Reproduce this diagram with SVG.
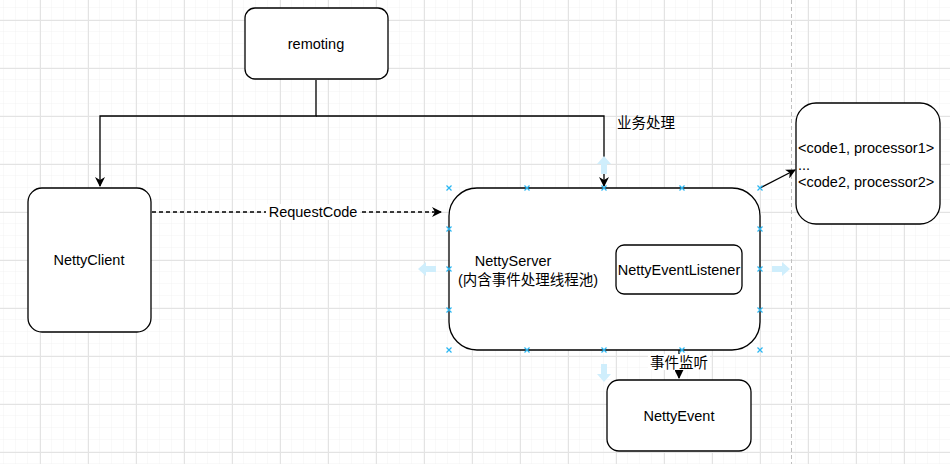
<svg xmlns="http://www.w3.org/2000/svg" width="950" height="464" viewBox="0 0 950 464">
<defs>
<pattern id="minor" width="12" height="12" patternUnits="userSpaceOnUse" x="4" y="8">
<path d="M12 0V12M0 12H12" fill="none" stroke="#f2f2f2" stroke-width="1"/>
</pattern>
<pattern id="major" width="48" height="48" patternUnits="userSpaceOnUse" x="40" y="20">
<path d="M0.5 0V48M0 0.5H48" fill="none" stroke="#e3e3e3" stroke-width="1"/>
</pattern>
<marker id="arr" viewBox="0 0 10 10" refX="9" refY="5" markerWidth="10" markerHeight="10" markerUnits="userSpaceOnUse" orient="auto">
<path d="M0 0L10 5L0 10L3 5Z" fill="#000"/>
</marker>
<marker id="tri" viewBox="0 0 10 10" refX="9" refY="5" markerWidth="9" markerHeight="9" markerUnits="userSpaceOnUse" orient="auto-start-reverse">
<path d="M0 0L10 5L0 10Z" fill="#000"/>
</marker>
<g id="xm"><path d="M-2.5 -2.5L2.5 2.5M-2.5 2.5L2.5 -2.5" stroke="#29b6f2" stroke-width="1.2"/></g>
</defs>
<style>
.box{fill:#fff;stroke:#000;stroke-width:1.3}
.t{font-family:"Liberation Sans",Arial,"Noto Sans CJK SC",sans-serif;font-size:14.5px;fill:#000}
.edge{fill:none;stroke:#000;stroke-width:1.3}
.hint{fill:#cfeefc}
</style>
<rect width="950" height="464" fill="#fff"/>
<rect width="950" height="464" fill="url(#minor)"/>
<rect width="950" height="464" fill="url(#major)"/>
<line x1="791.5" y1="0" x2="791.5" y2="464" stroke="#c0c0c0" stroke-dasharray="4 3"/>

<g id="connectors">
<path class="edge" d="M316 80V116H100V186" marker-end="url(#arr)"/>
<path class="edge" d="M316 116H604V186" marker-end="url(#arr)"/>
<path class="edge" d="M152 212H441" stroke-dasharray="4 3" marker-end="url(#arr)"/>
<rect x="266" y="204" width="94" height="16" fill="#fff"/>
<text class="t" x="313" y="217" text-anchor="middle">RequestCode</text>
<path class="edge" d="M760 188L795 170" marker-end="url(#arr)"/>
<path class="edge" d="M679 297V378" marker-start="url(#tri)" marker-end="url(#tri)"/>
<rect x="648" y="354" width="62" height="16" fill="#fff"/>
<text class="t" x="679" y="368" text-anchor="middle">事件监听</text>
<text class="t" x="617" y="128">业务处理</text>
</g>

<g id="remoting">
<rect class="box" x="245" y="8" width="143" height="71" rx="10"/>
<text class="t" x="316" y="49" text-anchor="middle">remoting</text>
</g>
<g id="nettyclient">
<rect class="box" x="28" y="188" width="123" height="144" rx="14"/>
<text class="t" x="89" y="265" text-anchor="middle">NettyClient</text>
</g>
<g id="nettyserver">
<rect class="box" x="449" y="188" width="311" height="162" rx="28"/>
<text class="t" x="513" y="266" text-anchor="middle">NettyServer</text>
<text class="t" x="528" y="285" text-anchor="middle">(内含事件处理线程池)</text>
</g>
<g id="nettyeventlistener">
<rect class="box" x="616" y="245" width="126" height="49" rx="8"/>
<text class="t" x="679" y="275" text-anchor="middle">NettyEventListener</text>
</g>
<g id="nettyevent">
<rect class="box" x="607" y="380" width="144" height="71" rx="12"/>
<text class="t" x="679" y="421" text-anchor="middle">NettyEvent</text>
</g>
<g id="processors">
<rect class="box" x="796" y="103" width="144" height="121" rx="20"/>
<text class="t" x="798" y="153">&lt;code1, processor1&gt;</text>
<text class="t" x="798" y="170">...</text>
<text class="t" x="798" y="187">&lt;code2, processor2&gt;</text>
</g>

<g id="selection">
<use href="#xm" x="449" y="188"/><use href="#xm" x="527" y="188"/><use href="#xm" x="604" y="188"/><use href="#xm" x="682" y="188"/><use href="#xm" x="760" y="188"/>
<use href="#xm" x="449" y="350"/><use href="#xm" x="527" y="350"/><use href="#xm" x="604" y="350"/><use href="#xm" x="682" y="350"/><use href="#xm" x="760" y="350"/>
<use href="#xm" x="449" y="229"/><use href="#xm" x="449" y="269"/><use href="#xm" x="449" y="310"/>
<use href="#xm" x="760" y="229"/><use href="#xm" x="760" y="269"/><use href="#xm" x="760" y="310"/>
<path class="hint" d="M604 156L611 164H607V174H601V164H597Z"/>
<path class="hint" d="M604 382L611 374H607V364H601V374H597Z"/>
<path class="hint" d="M418 269L426 262V266H436V272H426V276Z"/>
<path class="hint" d="M790 269L782 262V266H772V272H782V276Z"/>
</g>
</svg>
